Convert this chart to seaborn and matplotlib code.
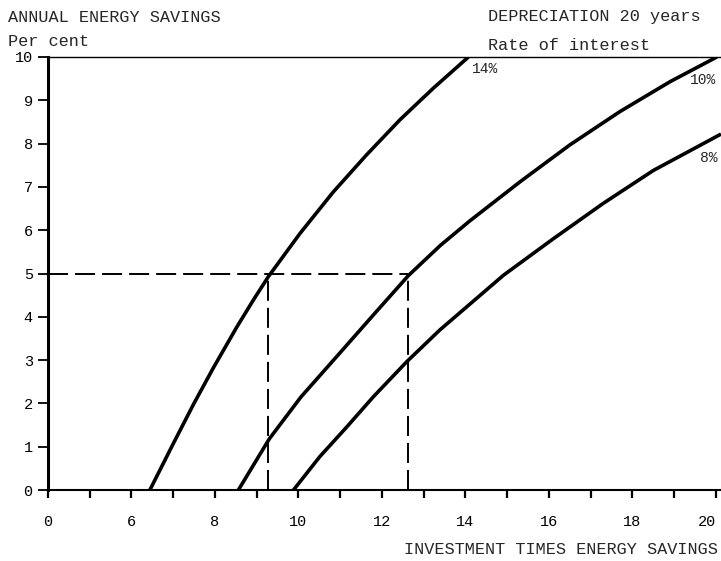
import numpy as np
import pandas as pd
import matplotlib
matplotlib.use("Agg")
import matplotlib.pyplot as plt
import seaborn as sns

# Data (x = investment times energy savings, y = annual savings %)
invest_14 = [6.44, 7.00, 7.48, 7.96, 8.52, 8.92, 9.28, 10.04, 10.83, 11.63, 12.43, 13.23, 14.07]
savings_14 = [0.0, 1.07, 1.97, 2.82, 3.76, 4.39, 4.93, 5.93, 6.88, 7.74, 8.55, 9.28, 10.0]
invest_10 = [8.56, 9.30, 10.06, 10.95, 11.80, 12.63, 13.40, 14.11, 15.31, 16.50, 17.70, 18.90, 20.02]
savings_10 = [0.0, 1.18, 2.15, 3.12, 4.05, 4.95, 5.65, 6.22, 7.12, 7.97, 8.74, 9.43, 10.0]
invest_8 = [9.88, 10.51, 11.16, 11.79, 12.59, 13.39, 14.91, 16.10, 17.30, 18.50, 20.12]
savings_8 = [0.0, 0.77, 1.46, 2.15, 2.96, 3.70, 4.96, 5.80, 6.62, 7.38, 8.22]

read_savings = 5
read_invest = [9.28, 12.63]

x_ticks = [4, 6, 8, 10, 12, 14, 16, 18, 20]
x_ticklabels = ["0", "6", "8", "10", "12", "14", "16", "18", "20"]
x_minor = [5, 7, 9, 11, 13, 15, 17, 19]
y_ticks = [0, 1, 2, 3, 4, 5, 6, 7, 8, 9, 10]
y_ticklabels = ["0", "1", "2", "3", "4", "5", "6", "7", "8", "9", "10"]

sns.set_style("ticks")
plt.rcParams['font.family'] = ['Liberation Mono', 'DejaVu Sans Mono']

fig = plt.figure(figsize=(7.21, 5.61), dpi=100)
ax = fig.add_axes([48 / 721, (561 - 490) / 561, (721 - 48) / 721, (490 - 57) / 561])

for xs, ys in [(invest_14, savings_14), (invest_10, savings_10), (invest_8, savings_8)]:
    df = pd.DataFrame({"x": xs, "y": ys})
    sns.lineplot(data=df, x="x", y="y", sort=False, estimator=None,
                 color="black", lw=2.6, ax=ax)
for ln in ax.get_lines():
    ln.set_solid_joinstyle("round")
    ln.set_solid_capstyle("butt")

dash = (0, (10.3, 3.6))
ax.plot([4, read_invest[1]], [read_savings, read_savings], color="black", lw=1.4, linestyle=dash)
for xv in read_invest:
    ax.plot([xv, xv], [0, read_savings], color="black", lw=1.4, linestyle=dash)

ax.set_xlim(4, 20.12)
ax.set_ylim(0, 10)
ax.set_xticks(x_ticks)
ax.set_xticklabels(x_ticklabels)
ax.set_xticks(x_minor, minor=True)
ax.set_yticks(y_ticks)
ax.set_yticklabels(y_ticklabels)
ax.set_xlabel("")
ax.set_ylabel("")

ax.tick_params(axis="x", which="both", direction="out", length=6, width=1.6, pad=12,
               labelsize=11, colors="black")
ax.tick_params(axis="y", which="both", direction="out", length=7, width=1.3, pad=4,
               labelsize=11, colors="black")
ax.get_xticklabels()[-1].set_horizontalalignment("right")

ax.spines["right"].set_visible(False)
ax.spines["left"].set_linewidth(2.2)
ax.spines["bottom"].set_linewidth(1.5)
ax.spines["top"].set_linewidth(1.0)
for s in ax.spines.values():
    s.set_color("black")

# Labels
fs = 12.2
fig.text(8 / 721, 1 - 17 / 561, "ANNUAL ENERGY SAVINGS", fontsize=fs, ha="left", va="center")
fig.text(8 / 721, 1 - 41 / 561, "Per cent", fontsize=fs, ha="left", va="center")
fig.text(488 / 721, 1 - 17 / 561, "DEPRECIATION 20 years", fontsize=fs, ha="left", va="center")
fig.text(488 / 721, 1 - 45 / 561, "Rate of interest", fontsize=fs, ha="left", va="center")
fig.text(718 / 721, 1 - 550 / 561, "INVESTMENT TIMES ENERGY SAVINGS", fontsize=fs,
         ha="right", va="center")

fig.text(472 / 721, 1 - 69 / 561, "14%", fontsize=10.5, ha="left", va="center")
fig.text(690 / 721, 1 - 80 / 561, "10%", fontsize=10.5, ha="left", va="center")
fig.text(700 / 721, 1 - 158 / 561, "8%", fontsize=10.5, ha="left", va="center")

fig.savefig("out.png", dpi=100)
